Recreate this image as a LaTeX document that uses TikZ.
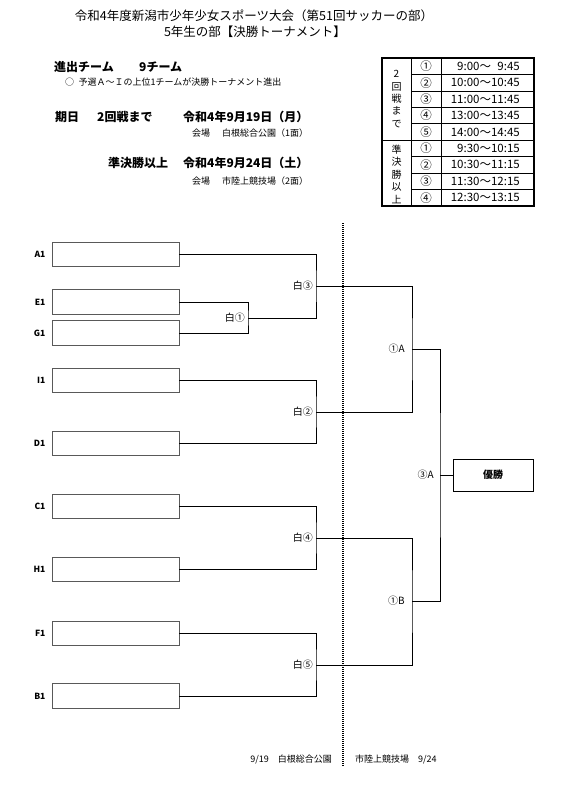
\documentclass[tikz,border=0pt]{standalone}
\usepackage{fontspec}
\setmainfont{Noto Sans CJK JP}
\usetikzlibrary{positioning, calc}

\begin{document}
\begin{tikzpicture}[x=1pt, y=-1pt,
  team/.style={draw=black!65, line width=0.9pt, minimum width=127pt, minimum height=24.5pt, inner sep=0pt},
  teamlbl/.style={font=\bfseries\fontsize{8.5}{9}\selectfont, inner sep=1pt},
  link/.style={line width=0.9pt},
  matchlbl/.style={font=\fontsize{10}{10}\selectfont, inner sep=1pt, anchor=east},
  head/.style={font=\bfseries\fontsize{12}{14}\selectfont, anchor=west, inner sep=0pt},
  note/.style={font=\fontsize{9}{10}\selectfont, anchor=west, inner sep=0pt},
  cell/.style={font=\fontsize{11.5}{12}\selectfont, inner sep=0pt},
  divider/.style={line width=1.4pt, dash pattern=on 1pt off 1pt}
]
\fill[white] (0,0) rectangle (571,787);
\useasboundingbox (0,0) rectangle (571,787);

% Title
\node[font=\fontsize{12.5}{14}\selectfont] (title) at (254,16) {令和4年度新潟市少年少女スポーツ大会（第51回サッカーの部）};
\node[font=\fontsize{12.5}{14}\selectfont] (subtitle) at (255,32) {5年生の部【決勝トーナメント】};

% Header notes
\node[head] (adv) at (54,67) {進出チーム};
\node[head] (advn) at (139,67) {9チーム};
\node[note] (rule) at (65,82) {○\hspace{0.5em}予選Ａ～Ｉの上位1チームが決勝トーナメント進出};
\node[head] (d1) at (55,117) {期日};
\node[head] (d1r) at (97,117) {2回戦まで};
\node[head] (d1d) at (183,117) {令和4年9月19日（月）};
\node[note] (v1) at (192,133) {会場};
\node[note] (v1n) at (222,133) {白根総合公園（1面）};
\node[head] (d2r) at (108,163) {準決勝以上};
\node[head] (d2d) at (183,163) {令和4年9月24日（土）};
\node[note] (v2) at (192,181) {会場};
\node[note] (v2n) at (222,181) {市陸上競技場（2面）};

% Time table
\foreach \c/\t [count=\i] in {①/9:00～\phantom{0}9:45, ②/10:00～10:45, ③/11:00～11:45, ④/13:00～13:45, ⑤/14:00～14:45,
                              ①/9:30～10:15, ②/10:30～11:15, ③/11:30～12:15, ④/12:30～13:15}{
  \node[cell] (c\i) at (426,{58+(\i-0.5)*16.44}) {\c};
  \node[cell, anchor=east] (t\i) at (520,{58+(\i-0.5)*16.44}) {\t};
}
\foreach \i in {1,2,3,4,6,7,8}{\draw[line width=0.7pt] (411,{58+\i*16.44}) -- (534,{58+\i*16.44});}
\draw[line width=1.1pt] (382,140.2) -- (534,140.2);
\draw[line width=0.7pt] (411,58) -- (411,206) (441,58) -- (441,206);
\draw[line width=1.1pt] (382,58) rectangle (534,206);
\node[cell, align=center, font=\fontsize{10}{12.3}\selectfont] (r2) at (396.5,99) {2\\回\\戦\\ま\\で};
\node[cell, align=center, font=\fontsize{10}{12.5}\selectfont] (rsf) at (396.5,174) {準\\決\\勝\\以\\上};

% Venue divider
\coordinate (div-top) at (343,223);
\coordinate (div-bot) at (343,767);
\draw[divider] (div-top) -- (div-bot);

% Teams
\foreach \t/\y in {A1/254.5, E1/302, G1/333, I1/380.5, D1/443.5, C1/506.5, H1/569.5, F1/633.5, B1/696}{
  \node[team] (\t) at (115.5,\y) {};
  \node[teamlbl, left=5pt of \t] (\t-lbl) {\t};
}

% Match points
\coordinate (w1) at (248,318);
\coordinate (w3) at (316,286);
\coordinate (w2) at (316,412);
\coordinate (w4) at (316,538);
\coordinate (w5) at (316,665);
\coordinate (sfA) at (412,349);
\coordinate (sfB) at (412,601);
\coordinate (fin) at (440,475);
\node[draw, line width=0.9pt, minimum width=80pt, minimum height=32pt, font=\bfseries\fontsize{10}{12}\selectfont] (champ) at (493,475) {優勝};

% Brackets
\draw[link] (E1.east) -| (w1) |- (G1.east);
\draw[link] (A1.east) -| (w3) |- (w1);
\draw[link] (I1.east) -| (w2) |- (D1.east);
\draw[link] (C1.east) -| (w4) |- (H1.east);
\draw[link] (F1.east) -| (w5) |- (B1.east);
\draw[link] (w3) -| (sfA) |- (w2);
\draw[link] (w4) -| (sfB) |- (w5);
\draw[link] (sfA) -| (fin) |- (sfB);
\draw[link] (fin) -- (champ.west);

% Match labels
\node[matchlbl] (w1-lbl) at ($(w1)+(-2,0)$) {白①};
\node[matchlbl] (w3-lbl) at ($(w3)+(-2,0)$) {白③};
\node[matchlbl] (w2-lbl) at ($(w2)+(-2,0)$) {白②};
\node[matchlbl] (w4-lbl) at ($(w4)+(-2,0)$) {白④};
\node[matchlbl] (w5-lbl) at ($(w5)+(-2,0)$) {白⑤};
\node[matchlbl] (sfA-lbl) at ($(sfA)+(-6,0)$) {①A};
\node[matchlbl] (sfB-lbl) at ($(sfB)+(-6,0)$) {①B};
\node[matchlbl] (fin-lbl) at ($(fin)+(-5,0)$) {③A};

% Footer
\node[note, anchor=east] (foot1) at (332,759) {9/19\hspace{1em}白根総合公園};
\node[note] (foot2) at (355,759) {市陸上競技場\hspace{1em}9/24};
\end{tikzpicture}
\end{document}
